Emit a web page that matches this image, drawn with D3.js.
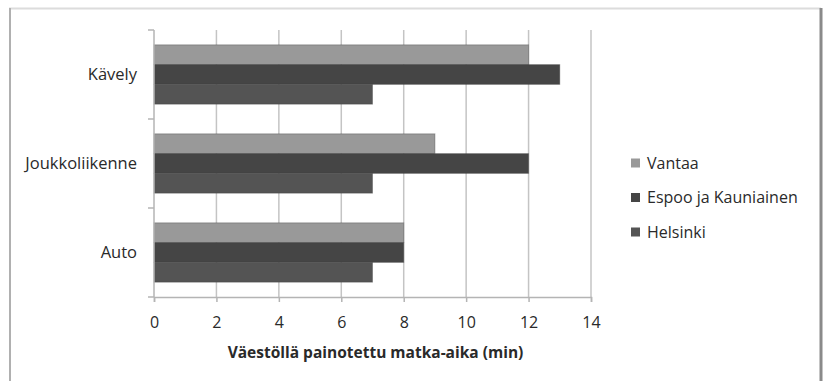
<!doctype html>
<html>
<head>
<meta charset="utf-8">
<title>Matka-aika</title>
<script src="https://d3js.org/d3.v7.min.js"></script>
<style>
  body { margin: 0; background: #fff; }
  text { font-family: "Open Sans", sans-serif; fill: #2a2a2a; }
</style>
</head>
<body>
<div id="chart"></div>
<script>
// data
var categories = ["Kävely", "Joukkoliikenne", "Auto"];
var series = ["Vantaa", "Espoo ja Kauniainen", "Helsinki"];
var vantaa = [12, 9, 8];
var espoo = [13, 12, 8];
var helsinki = [7, 7, 7];
var xTicks = [0, 2, 4, 6, 8, 10, 12, 14];
var xTitle = "Väestöllä painotettu matka-aika (min)";

var values = [vantaa, espoo, helsinki];
var colors = ["#999999", "#454545", "#545454"];

var W = 826, H = 381;
var margin = {top: 30, right: 235, bottom: 84, left: 154};
var width = W - margin.left - margin.right,
    height = H - margin.top - margin.bottom;

var svg = d3.select("#chart").append("svg")
    .attr("width", W)
    .attr("height", H);

// outer frame
svg.append("line").attr("x1", 9).attr("x2", 821).attr("y1", 8.5).attr("y2", 8.5)
    .attr("stroke", "#dcdcdc").attr("stroke-width", 2);
svg.append("line").attr("x1", 10).attr("x2", 10).attr("y1", 8).attr("y2", H)
    .attr("stroke", "#b0b0b0").attr("stroke-width", 2);
svg.append("line").attr("x1", 821).attr("x2", 821).attr("y1", 8).attr("y2", H)
    .attr("stroke", "#8a8a8a").attr("stroke-width", 3);

var g = svg.append("g")
    .attr("transform", "translate(" + margin.left + "," + margin.top + ")");

var x = d3.scaleLinear().domain([0, 14]).range([0, width]);
var y0 = d3.scaleBand().domain(categories).range([0, height]).padding(0);
var y1 = d3.scaleBand().domain(series).range([0, y0.bandwidth()])
    .paddingInner(0).paddingOuter(0.75);

// grid lines
g.selectAll(".grid").data(xTicks.slice(1)).enter().append("line")
    .attr("class", "grid")
    .attr("x1", function(d) { return x(d); })
    .attr("x2", function(d) { return x(d); })
    .attr("y1", 0).attr("y2", height)
    .attr("stroke", "#c4c4c4").attr("stroke-width", 1.5);

// bars
var rows = [];
categories.forEach(function(c, i) {
    series.forEach(function(s, j) {
        rows.push({cat: c, ser: s, value: values[j][i], color: colors[j]});
    });
});

g.selectAll(".bar").data(rows).enter().append("rect")
    .attr("class", "bar")
    .attr("x", x(0))
    .attr("y", function(d) { return y0(d.cat) + y1(d.ser); })
    .attr("width", function(d) { return x(d.value) - x(0); })
    .attr("height", y1.bandwidth())
    .attr("fill", function(d) { return d.color; })
    .attr("stroke", "#3a3a3a").attr("stroke-opacity", 0.35).attr("stroke-width", 1);

// x axis
var xAxis = g.append("g")
    .attr("transform", "translate(0," + height + ")")
    .call(d3.axisBottom(x).tickValues(xTicks).tickSize(5).tickPadding(15));
xAxis.select(".domain").attr("stroke", "#b4b4b4").attr("stroke-width", 1.5);
xAxis.selectAll(".tick line").attr("stroke", "#b4b4b4").attr("stroke-width", 1.5);
xAxis.selectAll(".tick text")
    .style("font-family", "'Open Sans', sans-serif")
    .style("font-size", "16px").attr("fill", "#2a2a2a");

// y axis: ticks at category boundaries
var yAxisG = g.append("g");
yAxisG.append("line").attr("x1", 0).attr("x2", 0).attr("y1", 0).attr("y2", height)
    .attr("stroke", "#b4b4b4").attr("stroke-width", 1.5);
var bounds = categories.map(function(c) { return y0(c); }).concat([height]);
yAxisG.selectAll(".ytick").data(bounds).enter().append("line")
    .attr("x1", -6).attr("x2", 0)
    .attr("y1", function(d) { return d; }).attr("y2", function(d) { return d; })
    .attr("stroke", "#b4b4b4").attr("stroke-width", 1.5);
yAxisG.selectAll(".ylabel").data(categories).enter().append("text")
    .attr("x", -17)
    .attr("y", function(d) { return y0(d) + y0.bandwidth() / 2; })
    .attr("dy", "0.35em")
    .attr("text-anchor", "end")
    .style("font-size", "16.5px")
    .text(function(d) { return d; });

// x title
g.append("text")
    .attr("x", x(14) / 2 + 3)
    .attr("y", height + 61)
    .attr("text-anchor", "middle")
    .style("font-size", "15.5px")
    .style("font-weight", "bold")
    .text(xTitle);

// legend
var legend = svg.append("g").attr("transform", "translate(631,163)");
var li = legend.selectAll(".li").data(series).enter().append("g")
    .attr("transform", function(d, i) { return "translate(0," + (i * 34.5) + ")"; });
li.append("rect").attr("x", 0).attr("y", -4.5).attr("width", 9).attr("height", 9)
    .attr("fill", function(d, i) { return colors[i]; });
li.append("text").attr("x", 16).attr("dy", "0.35em")
    .style("font-size", "16px")
    .text(function(d) { return d; });
</script>
</body>
</html>
